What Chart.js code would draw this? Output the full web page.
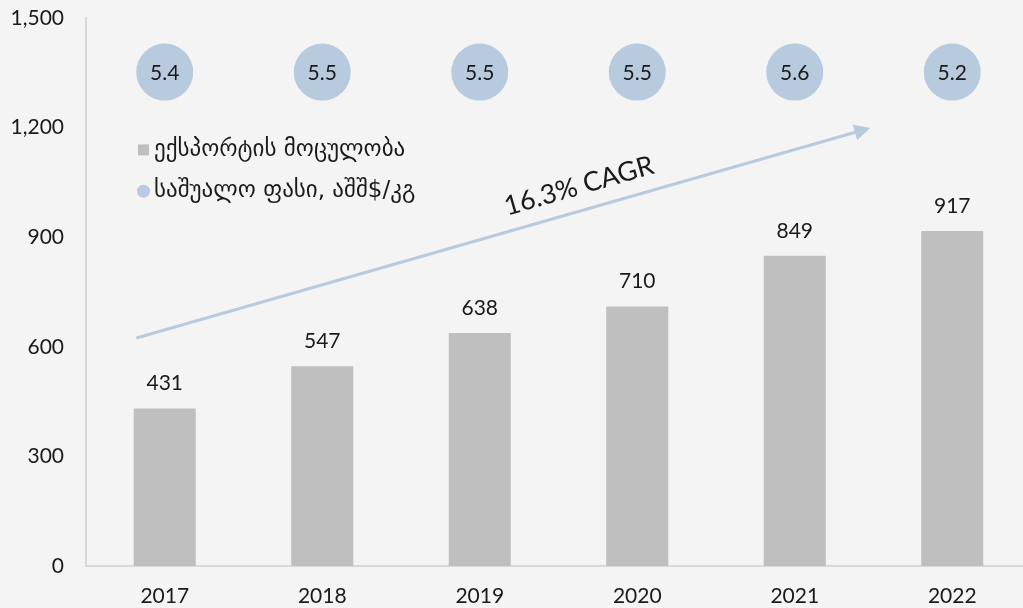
<!DOCTYPE html>
<html>
<head>
<meta charset="utf-8">
<script src="https://cdn.jsdelivr.net/npm/chart.js@4.4.1/dist/chart.umd.min.js"></script>
<style>
html,body{margin:0;padding:0;background:#f4f4f4;overflow:hidden;width:1023px;height:608px;}
canvas{display:block;}
</style>
</head>
<body>
<canvas id="c" width="1031" height="608"></canvas>
<script>
const categories = ['2017','2018','2019','2020','2021','2022'];
const exportVolume = [431, 547, 638, 710, 849, 917];
const avgPrice = [5.4, 5.5, 5.5, 5.5, 5.6, 5.2];
const yTicks = [0, 300, 600, 900, 1200, 1500];
const seriesNames = ['ექსპორტის მოცულობა', 'საშუალო ფასი, აშშ$/კგ'];
const cagrLabel = '16.3% CAGR';

const FONT = "Lato, 'DejaVu Sans', sans-serif";
const GEO_FONT = "'DejaVu Sans', sans-serif";
const BAR_COLOR = '#bfbfbf';
const DOT_COLOR = '#b8cadd';
const TEXT_COLOR = '#1a1a1a';

const overlay = {
  id: 'overlay',
  afterDatasetsDraw(chart) {
    const ctx = chart.ctx;
    const x = chart.scales.x, y = chart.scales.y;
    ctx.save();
    // bar value labels
    ctx.font = '21px ' + FONT;
    ctx.fillStyle = TEXT_COLOR;
    ctx.textAlign = 'center';
    ctx.textBaseline = 'middle';
    const barMeta = chart.getDatasetMeta(0);
    barMeta.data.forEach((bar, i) => {
      ctx.fillText(String(exportVolume[i]), bar.x, bar.y - 25);
    });
    // price circles
    const priceMeta = chart.getDatasetMeta(1);
    const cy = y.getPixelForValue(1352);
    priceMeta.data.forEach((pt, i) => {
      ctx.beginPath();
      ctx.fillStyle = DOT_COLOR;
      ctx.arc(pt.x, cy, 28.5, 0, Math.PI * 2);
      ctx.fill();
      ctx.fillStyle = TEXT_COLOR;
      ctx.fillText(avgPrice[i].toFixed(1), pt.x, cy + 1);
    });
    // CAGR arrow
    const x0 = x.getPixelForValue(-0.18), y0 = y.getPixelForValue(624);
    const x1 = x.getPixelForValue(4.48), y1 = y.getPixelForValue(1199);
    const ang = Math.atan2(y1 - y0, x1 - x0);
    ctx.strokeStyle = DOT_COLOR;
    ctx.lineWidth = 3;
    ctx.beginPath();
    ctx.moveTo(x0, y0);
    ctx.lineTo(x1 - 12 * Math.cos(ang), y1 - 12 * Math.sin(ang));
    ctx.stroke();
    ctx.fillStyle = DOT_COLOR;
    ctx.beginPath();
    ctx.moveTo(x1, y1);
    ctx.lineTo(x1 - 16 * Math.cos(ang) + 8 * Math.sin(ang), y1 - 16 * Math.sin(ang) - 8 * Math.cos(ang));
    ctx.lineTo(x1 - 16 * Math.cos(ang) - 8 * Math.sin(ang), y1 - 16 * Math.sin(ang) + 8 * Math.cos(ang));
    ctx.closePath();
    ctx.fill();
    // CAGR text
    const tx = x.getPixelForValue(2.63), ty = y.getPixelForValue(1040);
    ctx.save();
    ctx.translate(tx, ty);
    ctx.rotate(ang);
    ctx.font = '27px ' + FONT;
    ctx.fillStyle = TEXT_COLOR;
    ctx.textAlign = 'center';
    ctx.textBaseline = 'middle';
    ctx.fillText(cagrLabel, 0, 0);
    ctx.restore();
    // legend
    const lx = x.getPixelForValue(-0.17);
    const ly1 = y.getPixelForValue(1139), ly2 = y.getPixelForValue(1026);
    ctx.font = '23px ' + GEO_FONT;
    ctx.textAlign = 'left';
    ctx.fillStyle = BAR_COLOR;
    ctx.fillRect(lx, ly1 - 5.5, 11, 11);
    ctx.fillStyle = DOT_COLOR;
    ctx.beginPath();
    ctx.arc(lx + 5.5, ly2, 6.5, 0, Math.PI * 2);
    ctx.fill();
    ctx.fillStyle = TEXT_COLOR;
    ctx.fillText(seriesNames[0], lx + 16, ly1);
    ctx.fillText(seriesNames[1], lx + 16, ly2);
    ctx.restore();
  }
};

new Chart(document.getElementById('c'), {
  data: {
    labels: categories,
    datasets: [
      {
        type: 'bar',
        label: seriesNames[0],
        data: exportVolume,
        backgroundColor: BAR_COLOR,
        categoryPercentage: 1,
        barPercentage: 0.394,
        yAxisID: 'y'
      },
      {
        type: 'line',
        label: seriesNames[1],
        data: avgPrice,
        showLine: false,
        pointRadius: 0,
        yAxisID: 'yPrice'
      }
    ]
  },
  options: {
    responsive: false,
    devicePixelRatio: 1,
    animation: false,
    layout: { padding: { top: 18, right: 0, left: 0, bottom: 0 } },
    plugins: { legend: { display: false }, tooltip: { enabled: false } },
    scales: {
      x: {
        grid: { display: false, drawTicks: false },
        border: { color: '#d9d9d9', width: 2 },
        ticks: { color: TEXT_COLOR, font: { family: FONT, size: 21 }, padding: 18 },
        afterFit(s) { s.height = 42; }
      },
      y: {
        min: 0, max: 1500,
        afterBuildTicks(s) { s.ticks = yTicks.map(v => ({ value: v })); },
        grid: { display: false, drawTicks: false },
        border: { color: '#d9d9d9', width: 2 },
        ticks: {
          color: TEXT_COLOR,
          font: { family: FONT, size: 21 },
          padding: 22,
          callback: v => v.toLocaleString('en-US')
        },
        afterFit(s) { s.width = 86; s.paddingTop = 0; s.paddingBottom = 0; }
      },
      yPrice: { display: false, min: 0, max: 10 }
    }
  },
  plugins: [overlay]
});
</script>
</body>
</html>
